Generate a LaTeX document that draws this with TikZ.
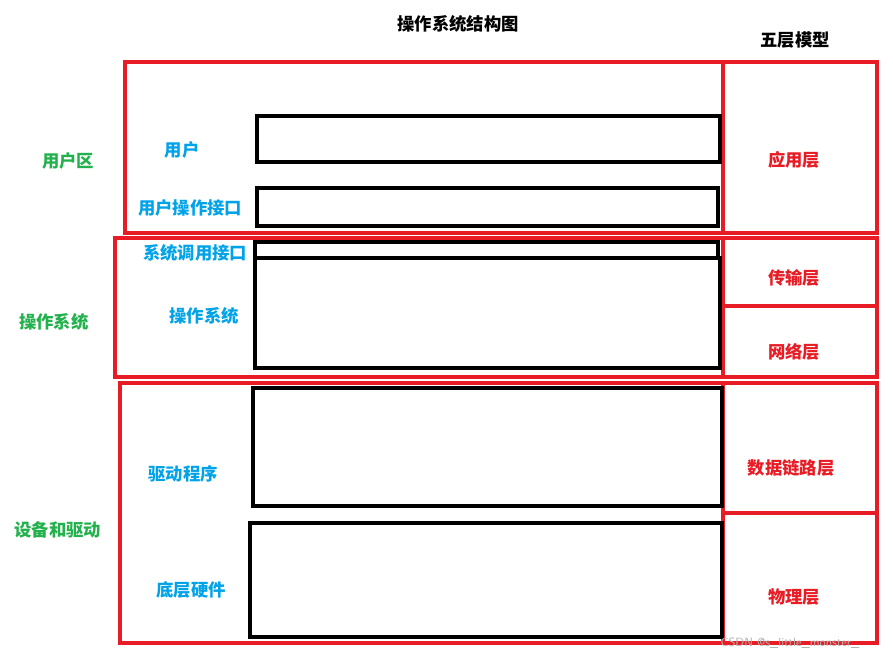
\documentclass[tikz,border=0pt]{standalone}
\usepackage{fontspec}
\newfontfamily\cjk{Noto Sans CJK SC}
\begin{document}
\begin{tikzpicture}[x=0.75pt, y=-0.75pt, font=\cjk\bfseries,
    % Stile für Rahmen und Beschriftungen
        zone/.style={draw={rgb,255:red,232;green,28;blue,36}, line width=2.6pt},
        block/.style={draw=black, line width=2.6pt},
        layerlabel/.style={text={rgb,255:red,232;green,28;blue,36}, font=\cjk\bfseries\fontsize{13}{15}\selectfont},
        partlabel/.style={text={rgb,255:red,0;green,162;blue,232}, font=\cjk\bfseries\fontsize{13}{15}\selectfont},
        arealabel/.style={text={rgb,255:red,34;green,177;blue,76}, font=\cjk\bfseries\fontsize{13}{15}\selectfont}]

        \useasboundingbox (0,0) rectangle (893,660);

        % Titel
        \node (title) at (458,24) {\fontsize{13}{15}\selectfont 操作系统结构图};
        \node (model) at (795,40) {\fontsize{13}{15}\selectfont 五层模型};

        % rote Bereiche links
        \draw[zone] (125,62) rectangle (723,233);
        \draw[zone] (115,238) rectangle (723,377);
        \draw[zone] (120,383) rectangle (723,643);

        % rote Schichten rechts
        \draw[zone] (723,62) rectangle (877,233);
        \draw[zone] (723,238) rectangle (877,306);
        \draw[zone] (723,306) rectangle (877,377);
        \draw[zone] (723,383) rectangle (877,513);
        \draw[zone] (723,513) rectangle (877,643);

        % schwarze Blöcke
        \draw[block] (257,116) rectangle (720,162);
        \draw[block] (257,188) rectangle (718,226);
        \draw[block] (255,242) rectangle (718,258);
        \draw[block] (255,258) rectangle (720,368);
        \draw[block] (253,388) rectangle (722,506);
        \draw[block] (250,523) rectangle (722,637);

        % Schichtnamen
        \node[layerlabel] (app) at (794,160) {应用层};
        \node[layerlabel] (trans) at (794,278) {传输层};
        \node[layerlabel] (net) at (794,352) {网络层};
        \node[layerlabel] (link) at (791,468) {数据链路层};
        \node[layerlabel] (phys) at (794,597) {物理层};

        % Teile des Betriebssystems
        \node[partlabel] (user) at (182,150) {用户};
        \node[partlabel] (ui) at (190,208) {用户操作接口};
        \node[partlabel] (syscall) at (195,253) {系统调用接口};
        \node[partlabel] (os) at (204,316) {操作系统};
        \node[partlabel] (driver) at (183,474) {驱动程序};
        \node[partlabel] (hw) at (191,590) {底层硬件};

        % Bereiche
        \node[arealabel] (userzone) at (68,161) {用户区};
        \node[arealabel] (oszone) at (54,322) {操作系统};
        \node[arealabel] (devzone) at (58,530) {设备和驱动};

        \node[text=gray!60, font=\sffamily\small] (mark) at (790,643) {CSDN @s\_little\_monster\_};
    \end{tikzpicture}
\end{document}
